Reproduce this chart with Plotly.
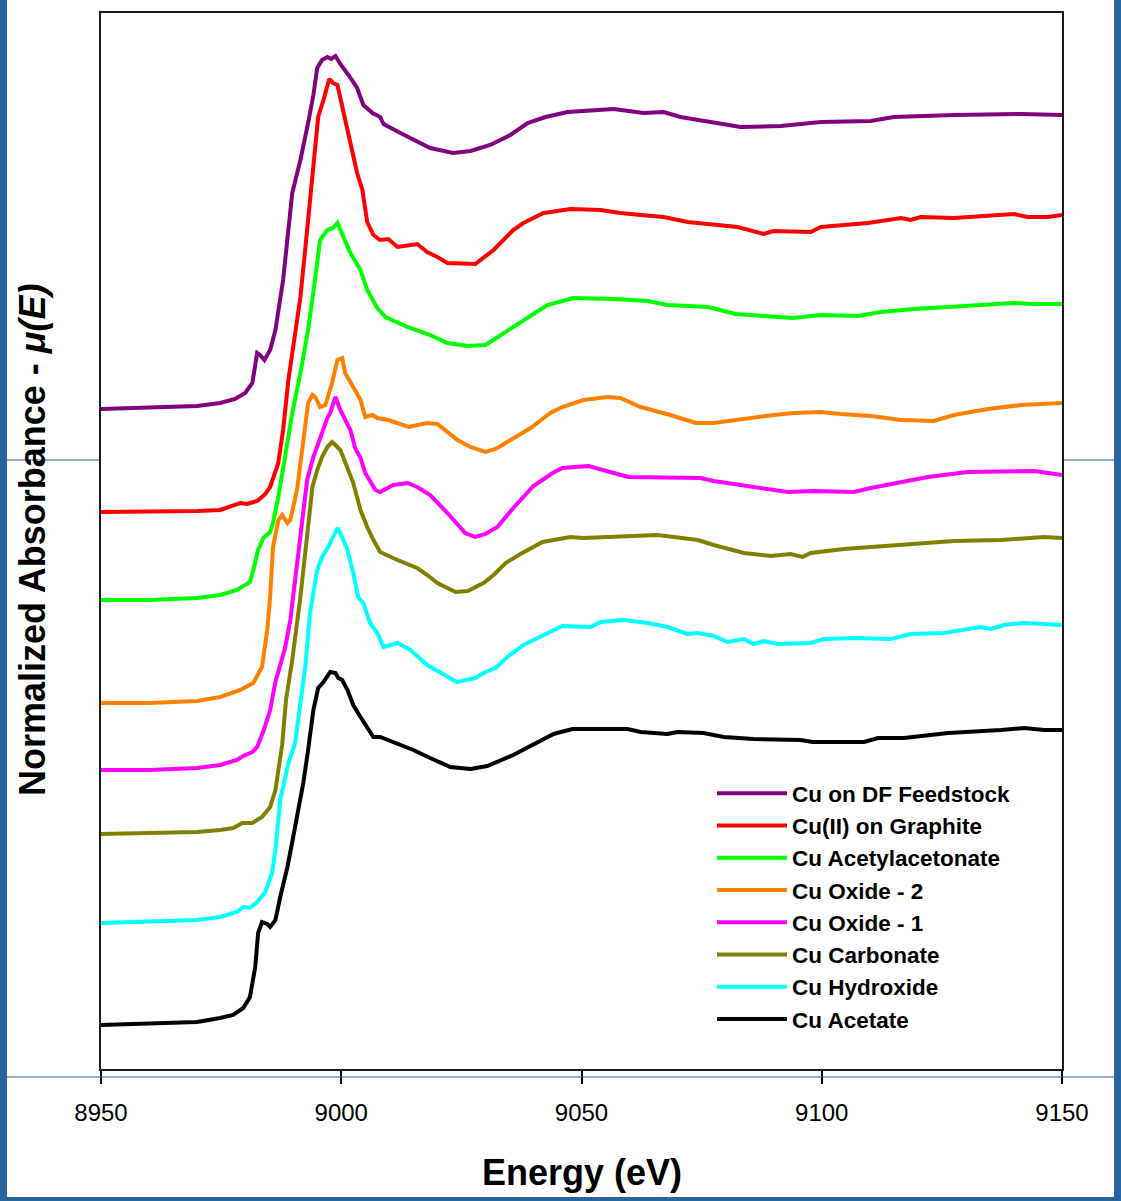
import plotly.graph_objects as go

# ---------------- data ----------------
energy_ticks = [8950, 9000, 9050, 9100, 9150]

feedstock_E = [8950, 8960, 8970, 8974.8, 8977.9, 8980, 8981.5, 8982.5, 8983.1, 8984.0, 8985.2, 8986.3, 8987.9, 8989.8, 8991.5, 8993.1, 8994.2, 8995.0, 8996.0, 8997.1, 8997.9, 8998.8, 8999.8, 9001.5, 9003.3, 9004.6, 9006.5, 9008.1, 9008.8, 9012.3, 9016.5, 9018.5, 9023.3, 9026.9, 9031.0, 9035.2, 9038.8, 9042.5, 9047.1, 9056.7, 9062.9, 9067.1, 9070.6, 9077.5, 9083.1, 9091.5, 9099.8, 9110.2, 9115.0, 9127.5, 9141.5, 9150]
feedstock_mu = [6.60, 6.61, 6.63, 6.66, 6.70, 6.76, 6.86, 7.16, 7.14, 7.09, 7.19, 7.39, 7.89, 8.76, 9.09, 9.46, 9.74, 10.01, 10.09, 10.12, 10.10, 10.13, 10.05, 9.94, 9.81, 9.64, 9.56, 9.52, 9.45, 9.36, 9.26, 9.21, 9.16, 9.18, 9.24, 9.34, 9.46, 9.52, 9.57, 9.60, 9.56, 9.57, 9.52, 9.46, 9.42, 9.43, 9.47, 9.48, 9.52, 9.54, 9.55, 9.54]

graphite_E = [8950, 8960, 8970, 8974.8, 8979.0, 8980.4, 8982.5, 8984.2, 8985.2, 8986.9, 8987.9, 8989.0, 8990.4, 8991.5, 8992.9, 8994.2, 8995.2, 8996.3, 8997.5, 8998.3, 8999.2, 9001.3, 9003.3, 9004.4, 9005.4, 9006.7, 9008.1, 9009.8, 9011.7, 9015.8, 9017.9, 9020.0, 9022.1, 9027.9, 9031.7, 9035.8, 9037.9, 9042.1, 9047.7, 9054.0, 9058.1, 9062.3, 9067.1, 9072.1, 9077.5, 9082.5, 9087.9, 9090.0, 9097.7, 9099.8, 9109.6, 9116.5, 9118.5, 9120.6, 9127.5, 9140.0, 9142.9, 9147.1, 9150]
graphite_mu = [5.57, 5.57, 5.58, 5.59, 5.66, 5.65, 5.68, 5.75, 5.82, 6.06, 6.39, 6.89, 7.39, 7.72, 8.39, 9.09, 9.52, 9.69, 9.90, 9.86, 9.84, 9.39, 8.96, 8.79, 8.47, 8.34, 8.29, 8.30, 8.22, 8.25, 8.17, 8.12, 8.06, 8.05, 8.19, 8.39, 8.46, 8.56, 8.60, 8.59, 8.56, 8.54, 8.52, 8.47, 8.44, 8.42, 8.35, 8.38, 8.37, 8.42, 8.46, 8.51, 8.49, 8.52, 8.51, 8.55, 8.52, 8.52, 8.54]

acac_E = [8950, 8960, 8970, 8974.8, 8978.3, 8981.0, 8981.7, 8982.7, 8983.8, 8985.2, 8985.8, 8986.9, 8988.3, 8989.8, 8991.5, 8993.1, 8994.4, 8995.6, 8997.1, 8998.3, 8999.2, 9000.4, 9001.9, 9004.0, 9005.4, 9007.5, 9009.2, 9013.8, 9018.5, 9022.1, 9026.3, 9030.0, 9035.8, 9038.8, 9042.9, 9048.3, 9056.7, 9063.8, 9067.9, 9076.3, 9082.1, 9087.9, 9094.0, 9099.8, 9107.5, 9112.3, 9119.2, 9126.3, 9134.6, 9140.0, 9144.2, 9150]
acac_mu = [4.69, 4.69, 4.71, 4.74, 4.79, 4.87, 4.99, 5.19, 5.31, 5.37, 5.46, 5.72, 6.12, 6.56, 6.96, 7.39, 7.84, 8.29, 8.39, 8.41, 8.46, 8.32, 8.16, 7.99, 7.79, 7.61, 7.52, 7.42, 7.34, 7.26, 7.23, 7.24, 7.42, 7.52, 7.64, 7.71, 7.70, 7.68, 7.64, 7.62, 7.55, 7.53, 7.51, 7.54, 7.53, 7.57, 7.60, 7.62, 7.65, 7.66, 7.65, 7.65]

oxide2_E = [8950, 8960, 8970, 8974.8, 8979.0, 8981.7, 8983.5, 8984.6, 8985.2, 8985.8, 8986.9, 8987.7, 8988.8, 8989.4, 8990.8, 8991.5, 8992.5, 8993.1, 8994.0, 8994.6, 8995.6, 8996.7, 8998.1, 8999.2, 9000.2, 9000.8, 9002.5, 9004.0, 9005.0, 9006.5, 9007.5, 9009.8, 9014.0, 9017.9, 9020.0, 9024.2, 9026.9, 9030.0, 9032.1, 9035.8, 9039.4, 9043.5, 9046.0, 9050.4, 9055.4, 9058.1, 9062.3, 9068.5, 9073.8, 9077.5, 9083.1, 9090.0, 9094.2, 9099.8, 9104.0, 9110.2, 9116.5, 9123.3, 9127.5, 9134.6, 9141.5, 9150]
oxide2_mu = [3.66, 3.66, 3.68, 3.72, 3.79, 3.86, 4.02, 4.39, 4.72, 5.22, 5.49, 5.54, 5.46, 5.49, 5.79, 6.06, 6.46, 6.66, 6.74, 6.72, 6.62, 6.64, 6.86, 7.09, 7.11, 6.96, 6.82, 6.69, 6.52, 6.54, 6.51, 6.49, 6.42, 6.46, 6.45, 6.29, 6.22, 6.17, 6.20, 6.31, 6.41, 6.56, 6.62, 6.69, 6.72, 6.71, 6.62, 6.54, 6.46, 6.46, 6.50, 6.54, 6.56, 6.57, 6.55, 6.53, 6.49, 6.48, 6.54, 6.60, 6.64, 6.66]

oxide1_E = [8950, 8960, 8970, 8974.8, 8978.3, 8979.6, 8981.5, 8982.5, 8983.8, 8985.2, 8986.3, 8987.3, 8988.3, 8989.4, 8990.4, 8991.5, 8992.9, 8994.2, 8995.6, 8997.1, 8997.7, 8998.8, 8999.8, 9000.8, 9001.9, 9002.9, 9004.0, 9005.0, 9006.0, 9007.1, 9008.1, 9010.8, 9013.8, 9015.8, 9018.5, 9022.1, 9025.8, 9027.9, 9030.0, 9032.5, 9035.8, 9040.0, 9044.0, 9046.0, 9051.5, 9054.0, 9056.7, 9059.8, 9067.9, 9074.8, 9077.5, 9083.1, 9085.8, 9092.9, 9098.3, 9106.7, 9110.2, 9115.8, 9122.1, 9130.4, 9138.8, 9144.2, 9147.1, 9150]
oxide1_mu = [2.99, 2.99, 3.01, 3.04, 3.09, 3.13, 3.17, 3.22, 3.38, 3.59, 3.87, 4.04, 4.21, 4.49, 4.89, 5.39, 5.89, 6.12, 6.32, 6.51, 6.56, 6.72, 6.59, 6.49, 6.39, 6.21, 6.11, 5.96, 5.87, 5.79, 5.77, 5.84, 5.86, 5.82, 5.74, 5.56, 5.36, 5.32, 5.35, 5.42, 5.61, 5.83, 5.96, 6.01, 6.03, 6.00, 5.96, 5.92, 5.91, 5.91, 5.88, 5.84, 5.82, 5.77, 5.78, 5.77, 5.81, 5.86, 5.92, 5.97, 5.97, 5.98, 5.96, 5.94]

carbonate_E = [8950, 8960, 8970, 8974.8, 8977.5, 8979.4, 8981.5, 8983.5, 8985.2, 8986.3, 8986.9, 8987.7, 8988.5, 8989.8, 8991.5, 8992.9, 8994.0, 8995.0, 8996.0, 8997.1, 8998.1, 8998.8, 8999.8, 9000.4, 9001.5, 9002.5, 9004.0, 9005.4, 9006.7, 9008.1, 9011.7, 9015.8, 9017.9, 9020.0, 9023.8, 9026.3, 9029.6, 9031.7, 9034.2, 9037.3, 9041.9, 9047.7, 9050.4, 9058.1, 9065.8, 9069.2, 9074.2, 9077.5, 9083.8, 9089.4, 9093.5, 9096.0, 9097.7, 9104.6, 9110.2, 9117.9, 9127.5, 9137.3, 9146.3, 9150]
carbonate_mu = [2.35, 2.36, 2.37, 2.39, 2.41, 2.46, 2.46, 2.52, 2.62, 2.79, 2.96, 3.24, 3.69, 4.09, 4.72, 5.39, 5.82, 5.99, 6.12, 6.22, 6.27, 6.24, 6.19, 6.12, 5.99, 5.86, 5.59, 5.42, 5.29, 5.17, 5.09, 5.01, 4.94, 4.86, 4.77, 4.78, 4.86, 4.94, 5.06, 5.15, 5.27, 5.32, 5.31, 5.32, 5.34, 5.32, 5.29, 5.24, 5.16, 5.13, 5.15, 5.12, 5.16, 5.20, 5.22, 5.25, 5.28, 5.29, 5.32, 5.31]

hydroxide_E = [8950, 8960, 8970, 8974.8, 8978.3, 8979.6, 8981.0, 8982.5, 8984.2, 8985.6, 8986.3, 8987.3, 8988.3, 8989.0, 8990.4, 8991.5, 8992.5, 8993.5, 8995.0, 8996.0, 8997.3, 8998.3, 8999.2, 9000.2, 9001.3, 9002.5, 9003.5, 9004.6, 9006.0, 9007.5, 9008.8, 9011.7, 9014.4, 9017.9, 9020.6, 9024.0, 9027.9, 9030.0, 9032.1, 9034.6, 9037.9, 9043.5, 9046.0, 9051.9, 9054.0, 9058.8, 9063.8, 9067.9, 9072.1, 9074.2, 9077.5, 9080.4, 9083.8, 9085.8, 9087.9, 9090.8, 9097.7, 9100.4, 9106.7, 9114.4, 9118.5, 9125.4, 9131.0, 9133.1, 9135.2, 9137.9, 9142.1, 9150]
hydroxide_mu = [1.46, 1.47, 1.49, 1.52, 1.57, 1.62, 1.61, 1.67, 1.77, 1.96, 2.19, 2.69, 2.92, 3.06, 3.26, 3.64, 4.02, 4.56, 4.99, 5.12, 5.22, 5.32, 5.41, 5.32, 5.19, 4.96, 4.72, 4.66, 4.46, 4.36, 4.22, 4.26, 4.19, 4.04, 3.96, 3.87, 3.91, 3.97, 4.01, 4.12, 4.24, 4.37, 4.43, 4.42, 4.47, 4.49, 4.46, 4.42, 4.35, 4.36, 4.33, 4.27, 4.30, 4.25, 4.28, 4.25, 4.26, 4.30, 4.31, 4.30, 4.35, 4.36, 4.40, 4.42, 4.40, 4.44, 4.46, 4.44]

acetate_E = [8950, 8960, 8970, 8974.8, 8977.5, 8979.6, 8981.0, 8982.1, 8982.7, 8983.5, 8984.6, 8985.2, 8986.3, 8987.3, 8988.8, 8990.0, 8991.0, 8992.1, 8993.1, 8994.2, 8995.2, 8996.3, 8997.7, 8998.8, 8999.4, 9000.2, 9001.3, 9002.5, 9004.0, 9005.4, 9006.7, 9008.1, 9010.2, 9015.0, 9018.5, 9022.7, 9026.9, 9030.4, 9035.8, 9040.0, 9044.2, 9048.1, 9059.6, 9062.3, 9067.9, 9070.0, 9075.4, 9079.6, 9085.8, 9095.6, 9098.1, 9108.8, 9111.7, 9117.1, 9126.3, 9137.3, 9142.1, 9146.3, 9150]
acetate_mu = [0.44, 0.45, 0.47, 0.51, 0.54, 0.61, 0.72, 1.02, 1.36, 1.47, 1.45, 1.42, 1.49, 1.72, 2.02, 2.32, 2.59, 2.86, 3.19, 3.59, 3.81, 3.87, 3.97, 3.96, 3.91, 3.89, 3.79, 3.64, 3.52, 3.41, 3.32, 3.32, 3.28, 3.19, 3.11, 3.02, 3.00, 3.03, 3.14, 3.24, 3.35, 3.40, 3.40, 3.37, 3.35, 3.37, 3.36, 3.32, 3.30, 3.29, 3.27, 3.27, 3.31, 3.31, 3.36, 3.39, 3.41, 3.39, 3.39]

series_names = ["Cu on DF Feedstock", "Cu(II) on Graphite", "Cu Acetylacetonate",
                "Cu Oxide - 2", "Cu Oxide - 1", "Cu Carbonate", "Cu Hydroxide", "Cu Acetate"]
series_colors = ["#800080", "#FF0000", "#00FF00", "#FF8000",
                 "#FF00FF", "#808000", "#00FFFF", "#000000"]
series_E = [feedstock_E, graphite_E, acac_E, oxide2_E, oxide1_E, carbonate_E, hydroxide_E, acetate_E]
series_mu = [feedstock_mu, graphite_mu, acac_mu, oxide2_mu, oxide1_mu, carbonate_mu, hydroxide_mu, acetate_mu]

# ---------------- figure ----------------
FONT = "Arial, 'Liberation Sans', sans-serif"
fig = go.Figure()
for name, color, E, mu in zip(series_names, series_colors, series_E, series_mu):
    fig.add_trace(go.Scatter(x=E, y=mu, mode="lines", name=name,
                             line=dict(color=color, width=4)))

W, H = 1121, 1201
L, R, T, B = 101, 59, 13, 132
pw, ph = W - L - R, H - T - B

def px(x):
    return (x - L) / pw

def py(y):
    return (H - B - y) / ph

blue = "#2A64A0"
shapes = [
    # slide decoration (blue frame and guide lines)
    dict(type="rect", xref="paper", yref="paper", x0=px(0), x1=px(7), y0=py(1201), y1=py(0),
         fillcolor=blue, line=dict(width=0), layer="below"),
    dict(type="rect", xref="paper", yref="paper", x0=px(1114), x1=px(1121), y0=py(1201), y1=py(0),
         fillcolor=blue, line=dict(width=0), layer="below"),
    dict(type="rect", xref="paper", yref="paper", x0=px(0), x1=px(1121), y0=py(1201), y1=py(1197),
         fillcolor=blue, line=dict(width=0), layer="below"),
    dict(type="line", xref="paper", yref="paper", x0=px(7), x1=px(101), y0=py(460), y1=py(460),
         line=dict(color=blue, width=1), layer="below"),
    dict(type="line", xref="paper", yref="paper", x0=px(1062), x1=px(1114), y0=py(460), y1=py(460),
         line=dict(color=blue, width=1), layer="below"),
    dict(type="line", xref="paper", yref="paper", x0=px(7), x1=px(1114), y0=py(1077), y1=py(1077),
         line=dict(color=blue, width=1), layer="above"),
]

fig.update_layout(
    width=W, height=H,
    margin=dict(l=L, r=R, t=T, b=B, pad=0),
    paper_bgcolor="rgba(0,0,0,0)",
    plot_bgcolor="white",
    font=dict(family=FONT, color="black"),
    showlegend=True,
    legend=dict(x=px(712), y=py(772), xanchor="left", yanchor="top",
                bgcolor="rgba(0,0,0,0)", borderwidth=0, itemwidth=70,
                font=dict(family=FONT, size=22.5, color="black", weight="bold"),
                tracegroupgap=0),
    xaxis=dict(range=[8950, 9150], tickvals=energy_ticks, ticktext=[str(t) for t in energy_ticks],
               ticks="outside", ticklen=13, tickwidth=1.5, tickcolor="black",
               ticklabelstandoff=8,
               tickfont=dict(family=FONT, size=24, color="black"),
               showline=True, linecolor="#1a1a1a", linewidth=2, mirror=True,
               showgrid=False, zeroline=False),
    yaxis=dict(range=[0, 10.56], showticklabels=False, ticks="",
               showline=True, linecolor="#1a1a1a", linewidth=2, mirror=True,
               showgrid=False, zeroline=False),
    shapes=shapes,
    annotations=[
        dict(text="<b>Energy (eV)</b>", xref="paper", yref="paper", x=px(582), y=py(1172),
             xanchor="center", yanchor="middle", showarrow=False,
             font=dict(family=FONT, size=36, color="black")),
        dict(text="<b>Normalized Absorbance - <i>μ(E)</i></b>", xref="paper", yref="paper",
             x=px(32), y=py(540), xanchor="center", yanchor="middle", textangle=-90,
             showarrow=False, font=dict(family=FONT, size=36, color="black")),
    ],
)

fig.write_html("out.html")
